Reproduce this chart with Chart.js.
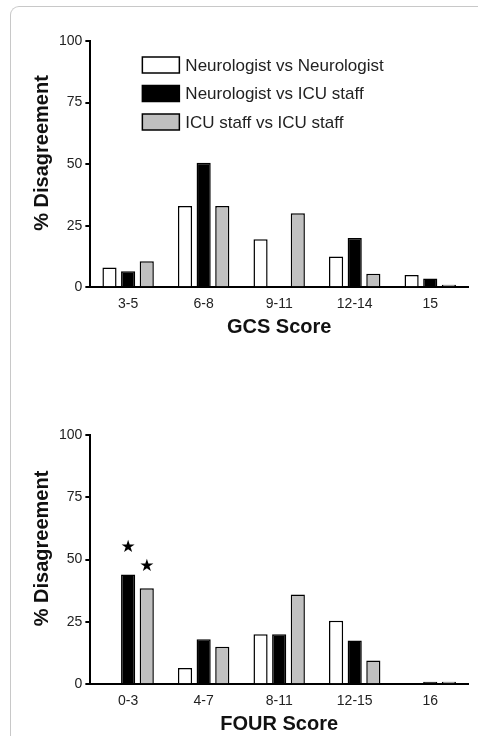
<!DOCTYPE html>
<html>
<head>
<meta charset="utf-8">
<script src="https://cdn.jsdelivr.net/npm/chart.js@4/dist/chart.umd.min.js"></script>
<style>
  body { margin: 0; background: #fff; overflow: hidden; }
  #frame {
    position: absolute; left: 10px; top: 6px; width: 480px; height: 740px;
    border-left: 1.5px solid #c8c8c8; border-top: 1.5px solid #c8c8c8;
    border-top-left-radius: 9px;
  }
  .box { position: absolute; left: 0; width: 478px; }
  #gcsBox { top: 0; height: 343px; }
  #fourBox { top: 394px; height: 346px; }
</style>
</head>
<body>
<div id="frame"></div>
<div class="box" id="gcsBox"><canvas id="gcsChart"></canvas></div>
<div class="box" id="fourBox"><canvas id="fourChart"></canvas></div>
<script>
const seriesNames = ["Neurologist vs Neurologist", "Neurologist vs ICU staff", "ICU staff vs ICU staff"];
const seriesFills = ["#ffffff", "#000000", "#c0c0c0"];
const yTicks = [0, 25, 50, 75, 100];

const gcsLabels = ["3-5", "6-8", "9-11", "12-14", "15"];
const gcsNeuroNeuro = [8, 33, 19.5, 12.5, 5];
const gcsNeuroIcu = [6.5, 50.5, 0, 20, 3.5];
const gcsIcuIcu = [10.5, 33, 30, 5.5, 1];

const fourLabels = ["0-3", "4-7", "8-11", "12-15", "16"];
const fourNeuroNeuro = [0, 6.5, 20, 25.5, 0];
const fourNeuroIcu = [44, 18, 20, 17.5, 1];
const fourIcuIcu = [38.5, 15, 36, 9.5, 1];
// significance stars over the 0-3 group (Neurologist vs ICU, ICU vs ICU)
const fourStars = [55, 47];

const FONT = "'Liberation Sans', Arial, sans-serif";
const TXT = "#222";

function makeDatasets(values) {
  return values.map((v, i) => ({
    label: seriesNames[i],
    data: v,
    backgroundColor: seriesFills[i],
    borderColor: "#000",
    borderWidth: 1.5,
    borderSkipped: "bottom",
    categoryPercentage: 0.74,
    barPercentage: 0.76
  }));
}

// legend drawn inside the plot, upper left
const innerLegend = {
  id: "innerLegend",
  afterDraw(chart, args, opts) {
    if (!opts.show) return;
    const ctx = chart.ctx;
    const a = chart.chartArea;
    ctx.save();
    ctx.font = "17px " + FONT;
    ctx.textBaseline = "middle";
    chart.data.datasets.forEach((ds, i) => {
      const x = a.left + 52;
      const y = a.top + 24 + i * 28.5;
      ctx.fillStyle = ds.backgroundColor;
      ctx.fillRect(x, y - 8, 37, 16);
      ctx.strokeStyle = "#000";
      ctx.lineWidth = 1.5;
      ctx.strokeRect(x, y - 8, 37, 16);
      ctx.fillStyle = TXT;
      ctx.fillText(ds.label, x + 43, y + 1);
    });
    ctx.restore();
  }
};

const stars = {
  id: "stars",
  afterDatasetsDraw(chart, args, opts) {
    if (!opts.values) return;
    const ctx = chart.ctx;
    ctx.save();
    ctx.font = "17px 'DejaVu Sans'";
    ctx.textAlign = "center";
    ctx.textBaseline = "middle";
    ctx.fillStyle = "#000";
    opts.values.forEach((v, i) => {
      const bar = chart.getDatasetMeta(i + 1).data[0];
      ctx.fillText("★", bar.x, chart.scales.y.getPixelForValue(v));
    });
    ctx.restore();
  }
};

function makeChart(id, labels, values, title, showLegend, starValues) {
  return new Chart(document.getElementById(id), {
    type: "bar",
    data: { labels: labels, datasets: makeDatasets(values) },
    plugins: [innerLegend, stars],
    options: {
      responsive: true,
      maintainAspectRatio: false,
      animation: false,
      layout: { padding: { left: 0, right: 10, top: 41, bottom: 4 } },
      plugins: {
        legend: { display: false },
        tooltip: { enabled: false },
        innerLegend: { show: showLegend },
        stars: { values: starValues }
      },
      scales: {
        x: {
          grid: { display: false },
          border: { display: true, color: "#000", width: 2 },
          ticks: { color: TXT, font: { family: FONT, size: 14 }, padding: 1 },
          title: { display: true, text: title, color: "#111", font: { family: FONT, size: 20, weight: "bold" }, padding: { top: 1, bottom: 0 } }
        },
        y: {
          min: 0, max: 100,
          afterBuildTicks: axis => { axis.ticks = yTicks.map(v => ({ value: v })); },
          grid: { drawOnChartArea: false, drawTicks: true, tickLength: 5, color: "#000", lineWidth: 2 },
          border: { display: true, color: "#000", width: 2 },
          ticks: { color: TXT, font: { family: FONT, size: 14 }, padding: 3 },
          title: { display: true, text: "    % Disagreement", color: "#111", font: { family: FONT, size: 20, weight: "bold" }, padding: { top: 30, bottom: 2 } }
        }
      }
    }
  });
}

makeChart("gcsChart", gcsLabels, [gcsNeuroNeuro, gcsNeuroIcu, gcsIcuIcu], "GCS Score", true, null);
makeChart("fourChart", fourLabels, [fourNeuroNeuro, fourNeuroIcu, fourIcuIcu], "FOUR Score", false, fourStars);
</script>
</body>
</html>
